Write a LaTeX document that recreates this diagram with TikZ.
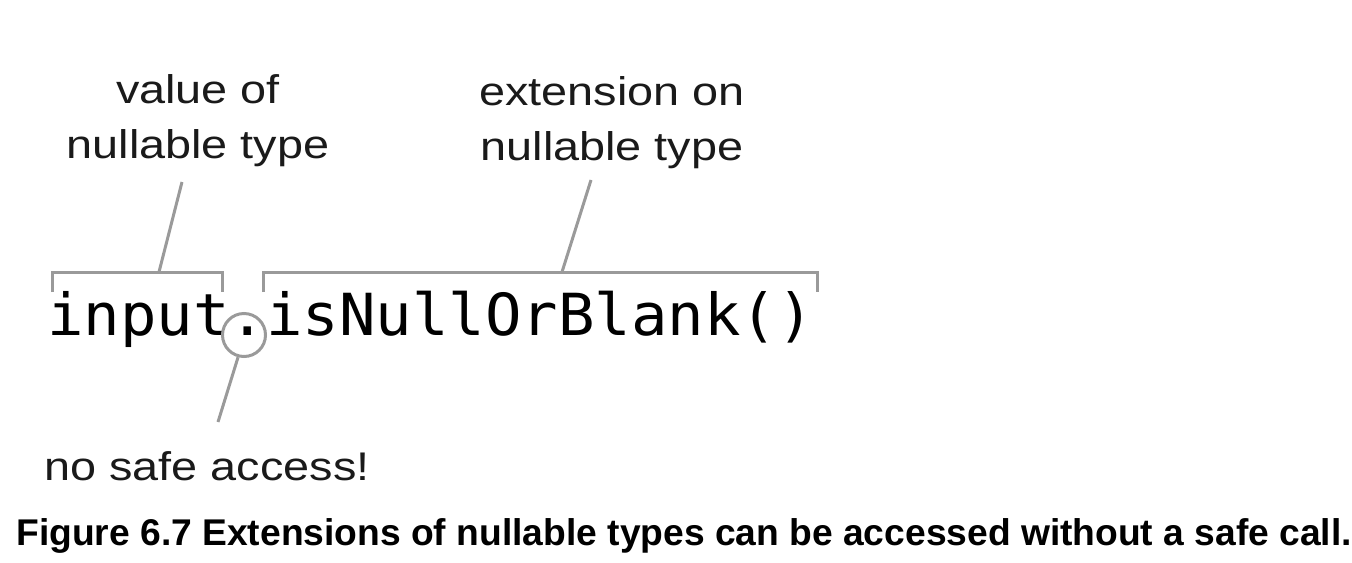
\documentclass[tikz,border=0pt]{standalone}
\usepackage{fontspec}
\newfontfamily\labfont[FakeStretch=1.17]{Liberation Sans}
\newfontfamily\capfont{Liberation Sans}
\newfontfamily\codefont[FakeStretch=1.045]{DejaVu Sans Mono}
\definecolor{linegray}{HTML}{9A9A9A}
\definecolor{txt}{HTML}{1A1A1A}
\begin{document}
\begin{tikzpicture}[x=0.5pt,y=-0.5pt,
  lbl/.style={font=\labfont\fontsize{20}{27.5}\selectfont, text=txt, inner sep=0pt, align=center},
  codetext/.style={font=\codefont\fontsize{29}{29}\selectfont, inner sep=0pt, anchor=base west},
  capt/.style={font=\capfont\bfseries\fontsize{18.6}{18.6}\selectfont, inner sep=0pt, anchor=base west},
  brk/.style={draw=linegray, line width=1.5pt},
  ring/.style={circle, draw=linegray, line width=1.5pt, minimum size=21.5pt, inner sep=0pt}]
\useasboundingbox (0,0) rectangle (1352,562);
% labels
\node[lbl, anchor=north] (vl) at (198,74) {value of\\nullable type};
\node[lbl, anchor=north] (el) at (612,76) {extension on\\nullable type};
\node[lbl, anchor=base west] (ns) at (44,480) {no safe access!};
% code
\node[codetext] (code) at (47,335) {input.isNullOrBlank()};
\node[ring] (dot) at (244,335) {};
% brackets
\draw[brk] (52,292) -- (52,272) -- (222,272) -- (222,292);
\draw[brk] (263,292) -- (263,272) -- (817,272) -- (817,292);
\coordinate (b1) at (159,272);
\coordinate (t1) at (182,182);
\coordinate (b2) at (562,272);
\coordinate (t2) at (591,180);
\coordinate (t3) at (218,422);
\draw[brk] (b1) -- (t1);
\draw[brk] (b2) -- (t2);
\draw[brk] (dot.-105) -- (t3);
% caption
\node[capt] (cap) at (16,545) {Figure 6.7 Extensions of nullable types can be accessed without a safe call.};
\end{tikzpicture}
\end{document}
